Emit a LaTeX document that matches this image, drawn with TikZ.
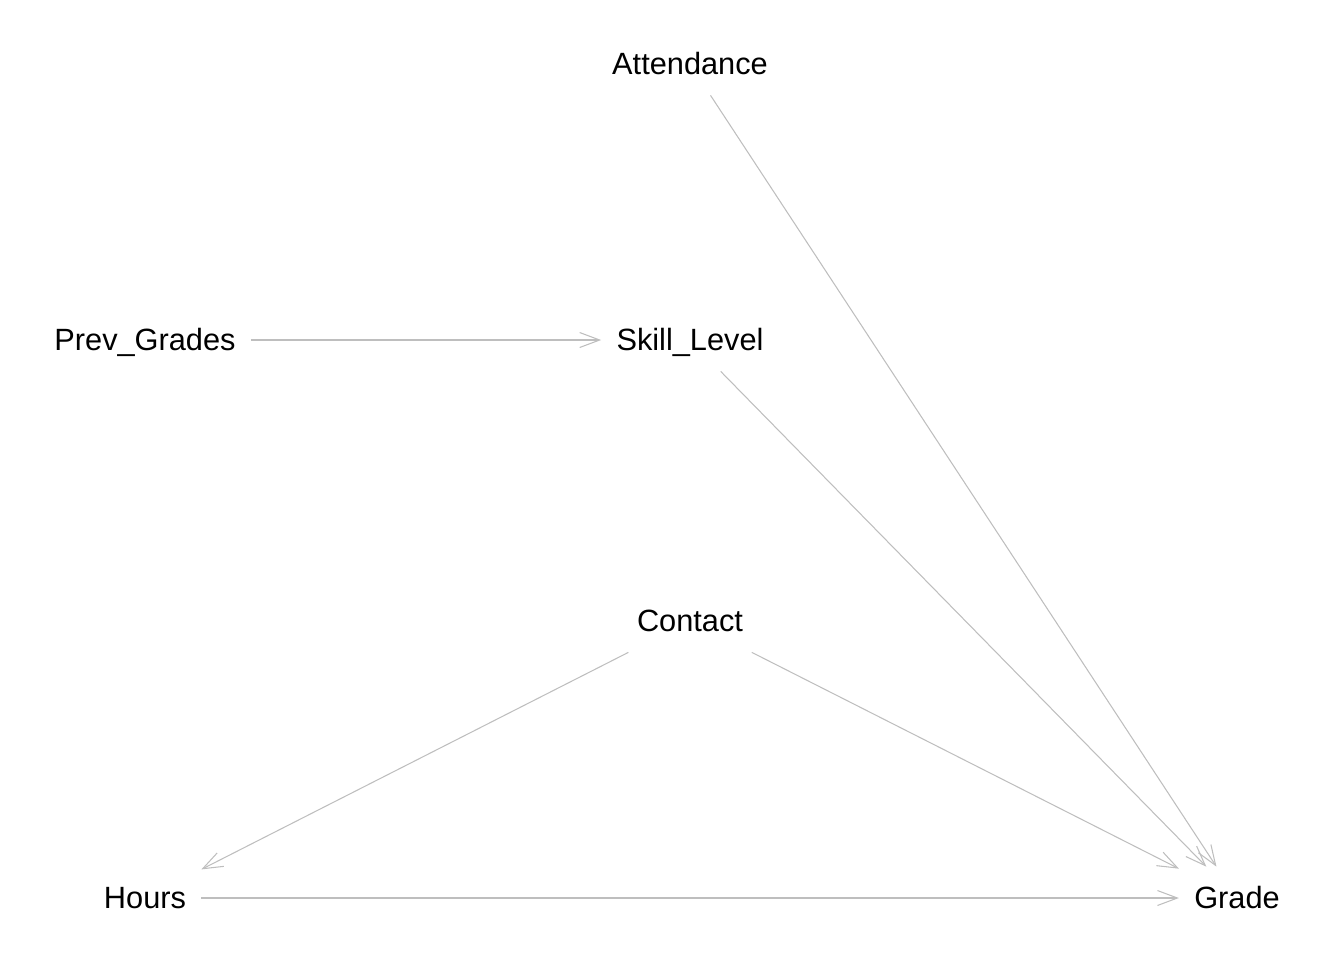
\documentclass[tikz,border=0pt]{standalone}
\usepackage{fontspec}
\setmainfont{Liberation Sans}
\usetikzlibrary{arrows.meta}
\begin{document}
\begin{tikzpicture}[x=0.02cm,y=-0.02cm,
  var/.style={inner xsep=0.3cm,inner ysep=8.9pt,text height=15pt,text depth=2.5pt,
    font=\fontsize{17.5}{21}\selectfont},
  edge/.style={draw={rgb,255:red,190;green,190;blue,190},line width=0.6pt,
    -{Straight Barb[length=0.4cm,width=0.3cm]}}]
  \useasboundingbox (0,0) rectangle (1344,960);
  \node[var] (att) at (690,64) {Attendance};
  \node[var] (prev) at (145,340) {Prev\_Grades};
  \node[var] (skill) at (690,340) {Skill\_Level};
  \node[var] (con) at (690,621) {Contact};
  \node[var] (hrs) at (145,898) {Hours};
  \node[var] (grd) at (1237,898) {Grade};
  \draw[edge] (prev) -- (skill);
  \draw[edge] (att) -- (grd);
  \draw[edge] (skill) -- (grd);
  \draw[edge] (con) -- (grd);
  \draw[edge] (con) -- (hrs);
  \draw[edge] (hrs) -- (grd);
\end{tikzpicture}
\end{document}
